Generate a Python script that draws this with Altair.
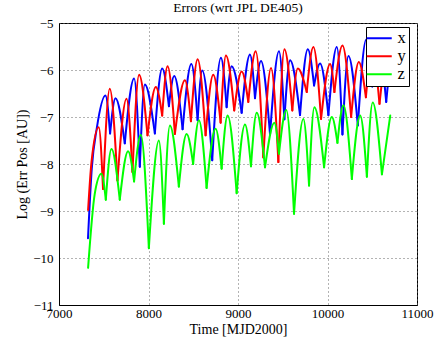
import altair as alt
import pandas as pd

# Epoch of each sample, MJD2000 days, and log10 of the position error [AU]
x_t = [7324, 7366, 7422, 7519, 7571, 7631, 7735, 7839, 7903, 7959, 8071, 8153, 8228,
       8287, 8381, 8479, 8549, 8600, 8712, 8809, 8873, 8929, 9041, 9134, 9190, 9257,
       9358, 9458, 9518, 9582, 9693, 9780, 9850, 9917, 10010, 10104, 10167, 10234,
       10339, 10433, 10500, 10578, 10656, 10690]
x_v = [-9.58, -8.10, -7.24, -6.54, -7.35, -6.60, -7.56, -6.18, -8.06, -6.31, -7.35,
       -5.97, -6.77, -6.13, -7.26, -5.87, -7.07, -6.01, -7.92, -5.74, -6.79, -5.92,
       -6.91, -5.67, -6.60, -5.81, -7.37, -5.60, -7.05, -5.79, -6.96, -5.56, -6.33,
       -5.86, -6.96, -5.51, -7.37, -5.70, -7.18, -5.35, -6.35, -5.60, -6.68, -6.00]

y_t = [7325, 7363, 7444, 7492, 7567, 7653, 7754, 7821, 7895, 7989, 8082, 8153, 8213,
       8295, 8407, 8474, 8549, 8638, 8723, 8806, 8865, 8958, 9041, 9115, 9198, 9283,
       9369, 9451, 9518, 9607, 9668, 9768, 9842, 9928, 10029, 10077, 10167, 10264,
       10350, 10429, 10499, 10581, 10622]
y_v = [-8.98, -7.96, -7.22, -8.53, -6.40, -8.35, -6.61, -8.17, -6.10, -7.39, -6.36,
       -6.97, -5.92, -7.36, -6.22, -7.09, -5.77, -7.39, -6.10, -7.12, -5.69, -6.86,
       -6.03, -6.68, -5.60, -7.86, -5.96, -7.96, -5.56, -6.86, -5.97, -6.47, -5.51,
       -7.04, -5.87, -6.47, -5.48, -7.00, -5.83, -6.58, -5.58, -6.72, -6.00]

z_t = [7325, 7399, 7474, 7523, 7586, 7679, 7772, 7839, 7914, 8004, 8116, 8172, 8239,
       8339, 8426, 8499, 8563, 8649, 8750, 8817, 8884, 8985, 9078, 9145, 9209, 9302,
       9406, 9458, 9539, 9626, 9730, 9794, 9853, 9962, 10048, 10111, 10178, 10272,
       10365, 10440, 10505, 10608, 10701]
z_v = [-10.21, -8.64, -8.21, -8.76, -7.68, -8.76, -7.73, -8.37, -7.38, -9.79, -7.50,
       -9.27, -7.18, -8.48, -7.36, -8.00, -7.07, -8.51, -7.25, -8.10, -6.97, -8.62,
       -7.16, -8.05, -6.91, -8.07, -7.12, -7.78, -6.85, -9.06, -7.04, -8.46, -6.79,
       -8.07, -7.00, -7.55, -6.75, -8.32, -6.97, -8.27, -6.69, -8.22, -6.97]

components = ["x", "y", "z"]
colors = ["#0000ff", "#ff0000", "#00ff00"]


def arches(name, t, v):
    """Split a series at its local minima so each lobe is drawn as its own path."""
    assert len(t) == len(v)
    cuts = [0] + [i for i in range(1, len(v) - 1)
                  if v[i] < v[i - 1] and v[i] < v[i + 1]] + [len(v) - 1]
    rows = []
    for k in range(len(cuts) - 1):
        for i in range(cuts[k], cuts[k + 1] + 1):
            rows.append({"comp": name, "lobe": f"{name}{k:02d}",
                         "t": t[i], "logerr": v[i], "order": i})
    return rows


rows = (arches("x", x_t, x_v) + arches("y", y_t, y_v) + arches("z", z_t, z_v))
df = pd.DataFrame(rows)

serif = "Liberation Serif"

chart = alt.Chart(df).mark_line(
    interpolate="monotone", strokeWidth=2, strokeJoin="round", strokeCap="round"
).encode(
    x=alt.X("t:Q", scale=alt.Scale(domain=[7000, 11000], nice=False, zero=False),
            axis=alt.Axis(title="Time [MJD2000]", values=[7000, 8000, 9000, 10000, 11000],
                          format="d", labelFlush=False, labelPadding=2, titlePadding=2)),
    y=alt.Y("logerr:Q", scale=alt.Scale(domain=[-11, -5], nice=False, zero=False),
            axis=alt.Axis(title="Log (Err Pos [AU])", values=[-11, -10, -9, -8, -7, -6, -5],
                          format="d", labelFlush=False, labelPadding=6, titlePadding=3)),
    color=alt.Color("comp:N", scale=alt.Scale(domain=components, range=colors),
                    legend=alt.Legend(title=None, orient="none", legendX=307, legendY=4,
                                      fillColor="white", strokeColor="black", padding=3,
                                      symbolType="M-2,0H2", symbolSize=156.25,
                                      symbolStrokeWidth=2, symbolOffset=2,
                                      labelFont=serif, labelFontSize=16.5,
                                      labelOffset=10, rowPadding=1)),
    detail="lobe:N",
    order="order:Q",
).properties(
    width=358,
    height=282,
    title=alt.TitleParams("Errors (wrt JPL DE405)", font=serif, fontSize=13.5,
                          fontWeight="normal", anchor="middle", offset=3, color="black"),
    autosize=alt.AutoSizeParams(type="none"),
    padding={"left": 59, "top": 23, "right": 21, "bottom": 39},
).configure_view(
    stroke="black", strokeWidth=1
).configure_axis(
    labelFont=serif, labelFontSize=13, labelColor="black",
    titleFont=serif, titleFontSize=14, titleFontWeight="normal", titleColor="black",
    domainColor="black", domainWidth=1, ticks=False,
    grid=True, gridColor="#666666", gridDash=[1, 3], gridWidth=1, gridOpacity=1,
)

chart.save("out.html", embed_options={"renderer": "svg", "actions": False})
